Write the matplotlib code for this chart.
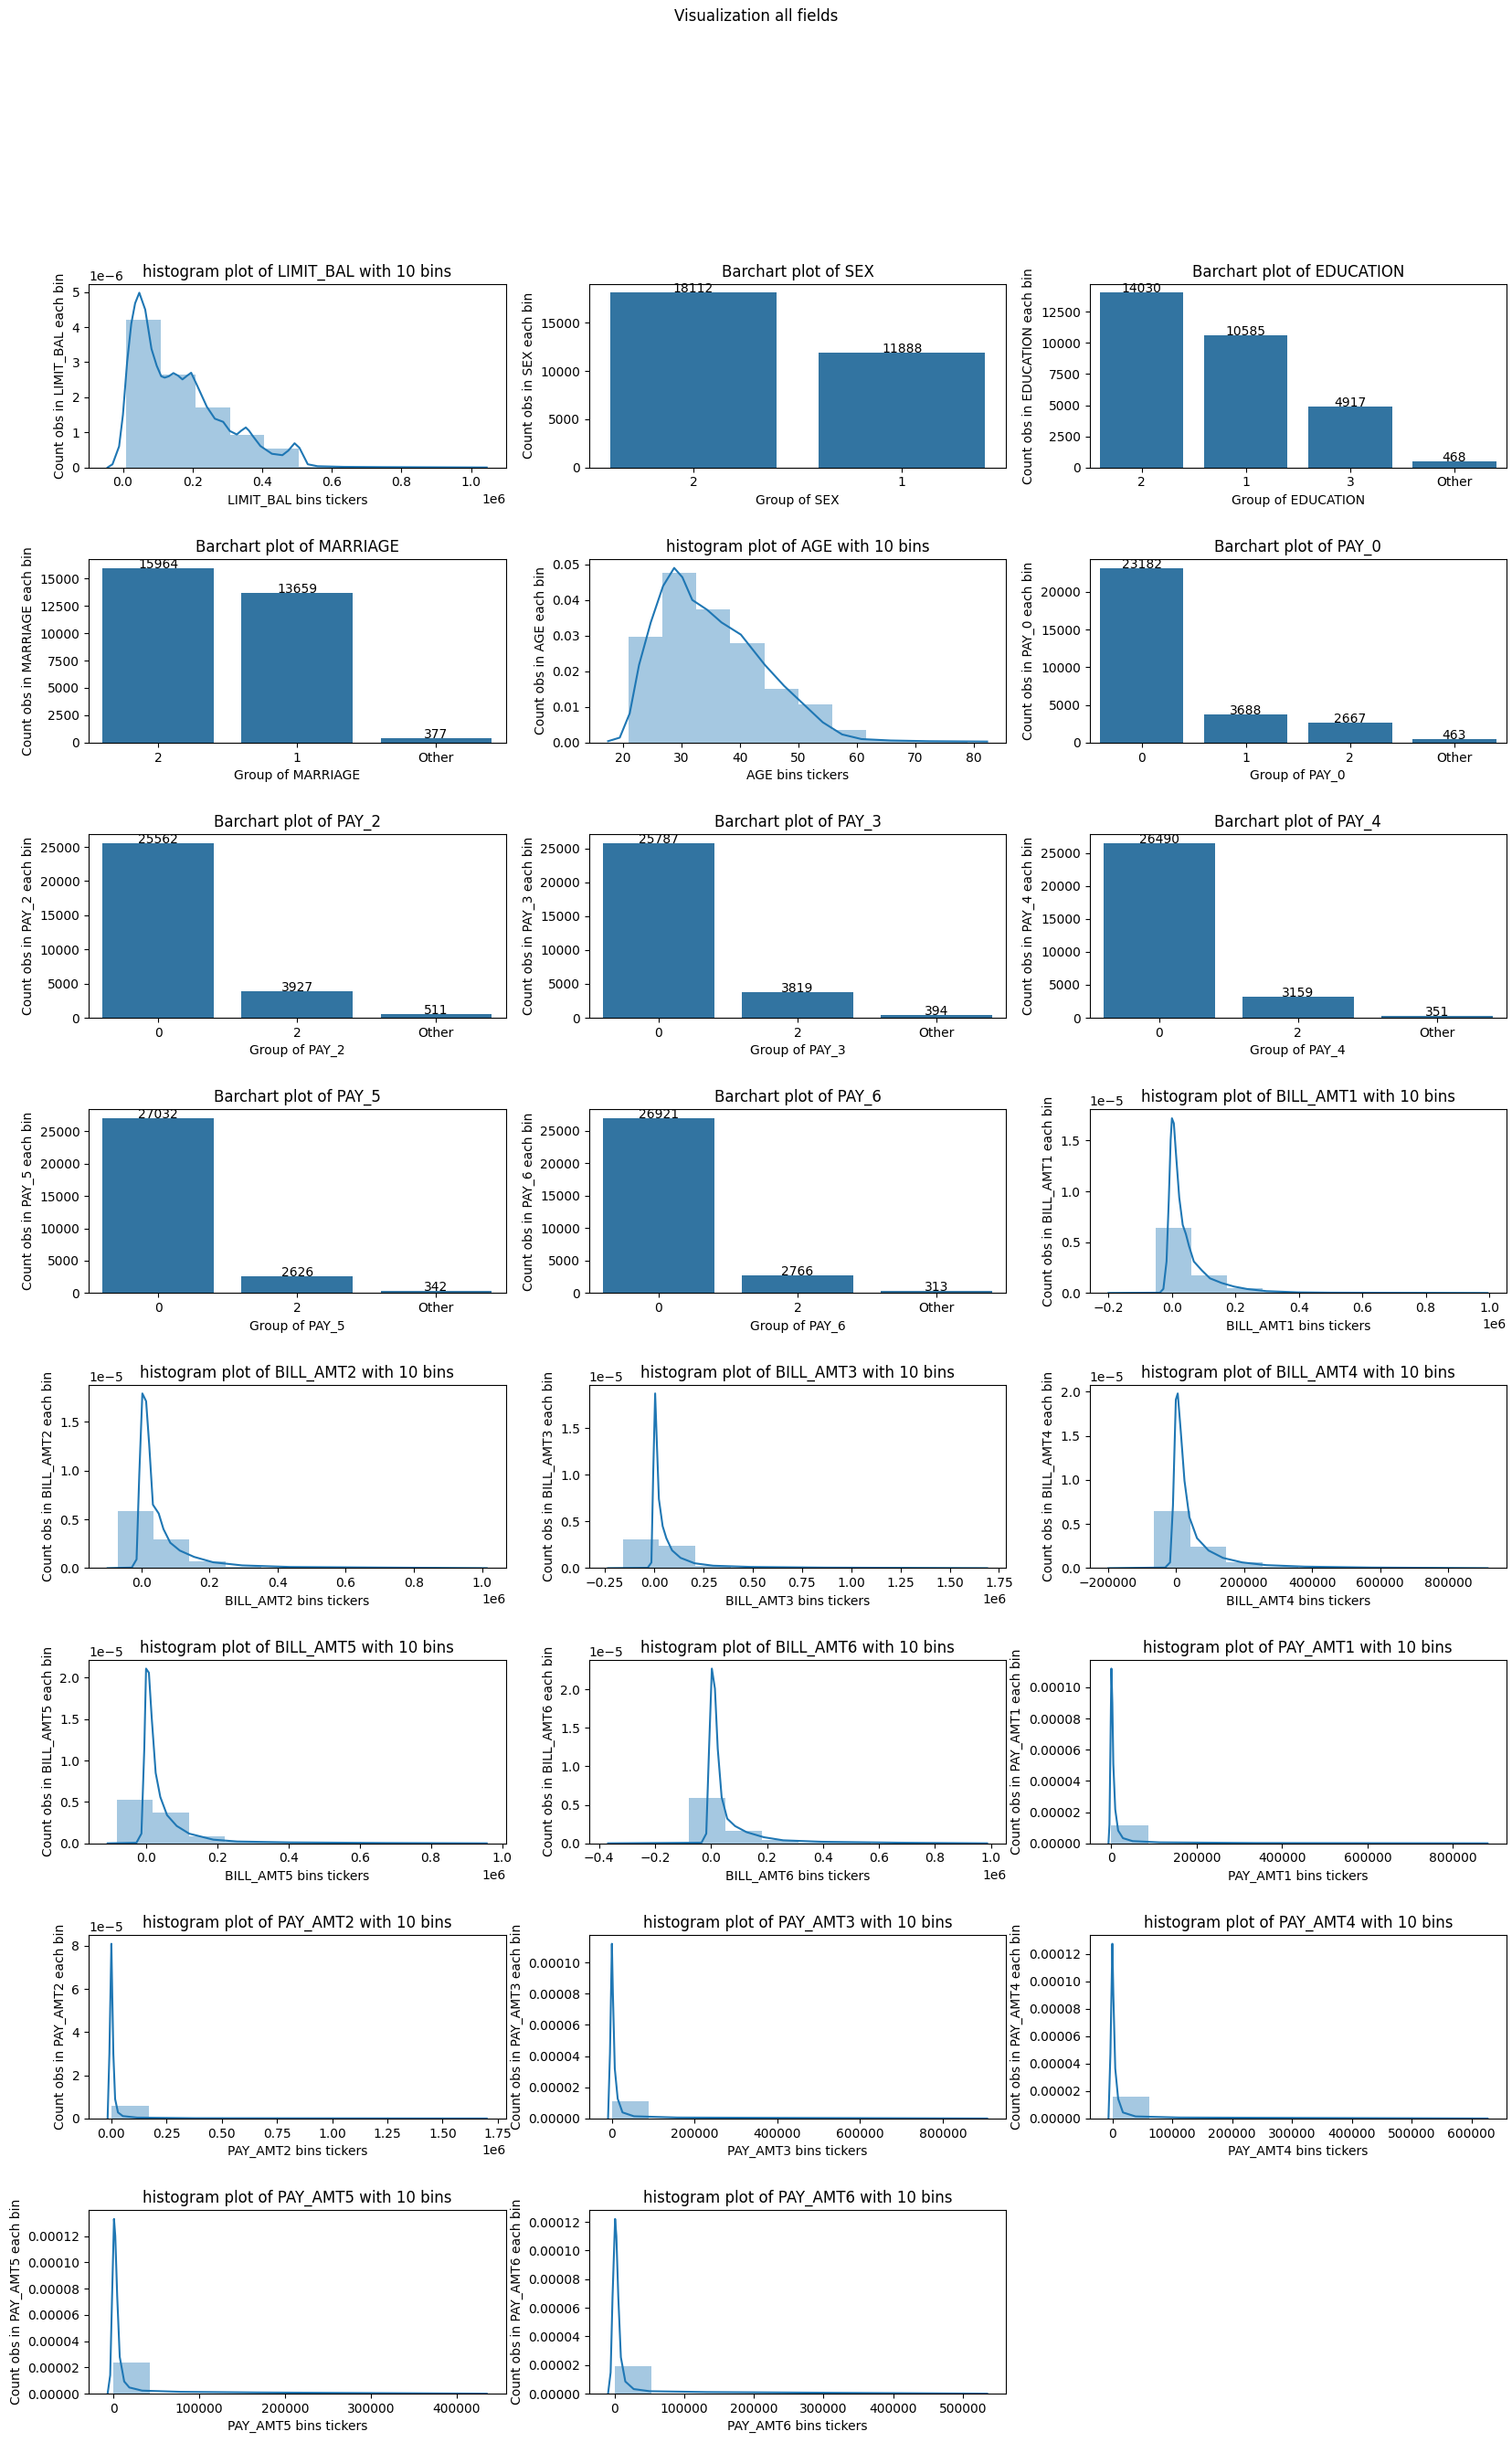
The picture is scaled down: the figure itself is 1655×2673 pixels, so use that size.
import matplotlib
matplotlib.use('Agg')
import matplotlib.pyplot as plt
import numpy as np

# ---- categorical fields (bar charts) ----
sex_groups = ['2', '1']
sex_counts = [18112, 11888]
education_groups = ['2', '1', '3', 'Other']
education_counts = [14030, 10585, 4917, 468]
marriage_groups = ['2', '1', 'Other']
marriage_counts = [15964, 13659, 377]
pay_0_groups = ['0', '1', '2', 'Other']
pay_0_counts = [23182, 3688, 2667, 463]
pay_2_groups = ['0', '2', 'Other']
pay_2_counts = [25562, 3927, 511]
pay_3_groups = ['0', '2', 'Other']
pay_3_counts = [25787, 3819, 394]
pay_4_groups = ['0', '2', 'Other']
pay_4_counts = [26490, 3159, 351]
pay_5_groups = ['0', '2', 'Other']
pay_5_counts = [27032, 2626, 342]
pay_6_groups = ['0', '2', 'Other']
pay_6_counts = [26921, 2766, 313]

# ---- numeric fields (histogram, 10 bins, density + kde) ----
limit_bal_range = (10000, 1000000)
limit_bal_density = np.array([4.20, 2.65, 1.70, 0.93, 0.53, 0.020, 0.010, 0.004, 0.003, 0.002]) * 1e-6
limit_bal_kde_x = np.array([-0.044, -0.030, -0.011, 0.0, 0.012, 0.024, 0.035, 0.047, 0.064, 0.082, 0.097,
                            0.110, 0.120, 0.132, 0.145, 0.158, 0.171, 0.185, 0.196, 0.213, 0.241, 0.264,
                            0.288, 0.307, 0.327, 0.340, 0.353, 0.362, 0.372, 0.395, 0.428, 0.458, 0.475,
                            0.493, 0.507, 0.531, 0.559, 0.634, 0.75, 0.9, 1.045]) * 1e6
limit_bal_kde_y = np.array([0.0, 0.09, 0.6, 1.5, 3.0, 4.1, 4.68, 4.98, 4.5, 3.38, 2.9, 2.6, 2.56, 2.6, 2.69,
                            2.62, 2.51, 2.62, 2.70, 2.34, 1.73, 1.39, 1.30, 1.04, 0.94, 1.05, 1.14, 1.05,
                            0.91, 0.61, 0.39, 0.35, 0.48, 0.69, 0.56, 0.09, 0.035, 0.017, 0.01, 0.005, 0.0]) * 1e-6

age_range = (21, 79)
age_density = [0.0296, 0.0475, 0.0375, 0.0278, 0.0151, 0.0108, 0.0036, 0.0008, 0.0004, 0.0002]
age_kde_x = [17.5, 19.5, 21.2, 22.8, 24.8, 26.9, 28.8, 30.2, 31.9, 34.4, 36.9, 40.2, 44.3, 47.6, 50.9,
             54.2, 57.5, 60.8, 65.8, 72.4, 82.3]
age_kde_y = [0.0004, 0.0014, 0.0082, 0.0218, 0.0337, 0.0439, 0.049, 0.0464, 0.0400, 0.0373, 0.0337,
             0.0303, 0.0218, 0.0159, 0.0108, 0.0057, 0.0023, 0.0010, 0.0006, 0.0004, 0.0003]

bill_amt1_range = (-165580, 964511)
bill_amt1_density = np.array([0.0005, 0.638, 0.174, 0.045, 0.012, 0.004, 0.002, 0.001, 0.0005, 0.0003]) * 1e-5
bill_amt1_kde_x = np.array([-0.2, -0.038, -0.027, -0.017, -0.010, -0.004, 0.0, 0.006, 0.013, 0.023, 0.034,
                            0.044, 0.054, 0.069, 0.095, 0.12, 0.156, 0.196, 0.237, 0.298, 0.4, 0.5, 0.995]) * 1e6
bill_amt1_kde_y = np.array([0.0, 0.003, 0.04, 0.31, 0.91, 1.51, 1.72, 1.67, 1.36, 0.94, 0.67, 0.58, 0.46,
                            0.31, 0.22, 0.144, 0.099, 0.063, 0.039, 0.018, 0.006, 0.003, 0.0]) * 1e-5

bill_amt2_range = (-69777, 983931)
bill_amt2_density = np.array([0.582, 0.293, 0.068, 0.018, 0.006, 0.003, 0.002, 0.001, 0.0005, 0.0003]) * 1e-5
bill_amt2_kde_x = np.array([-0.099, -0.028, -0.014, -0.006, 0.003, 0.014, 0.023, 0.034, 0.051, 0.065, 0.085,
                            0.113, 0.155, 0.211, 0.296, 0.437, 0.718, 1.014]) * 1e6
bill_amt2_kde_y = np.array([0.0, 0.006, 0.09, 0.96, 1.79, 1.71, 1.27, 0.65, 0.56, 0.40, 0.26, 0.18, 0.115,
                            0.06, 0.028, 0.012, 0.006, 0.0]) * 1e-5

bill_amt3_range = (-157264, 1664089)
bill_amt3_density = np.array([0.304, 0.236, 0.023, 0.006, 0.002, 0.001, 0.0005, 0.0003, 0.0002, 0.0001]) * 1e-5
bill_amt3_kde_x = np.array([-0.234, -0.033, -0.014, -0.005, 0.005, 0.014, 0.024, 0.043, 0.062, 0.091, 0.134,
                            0.205, 0.30, 0.49, 0.87, 1.69]) * 1e6
bill_amt3_kde_y = np.array([0.0, 0.003, 0.06, 1.0, 1.87, 1.32, 0.74, 0.45, 0.32, 0.19, 0.11, 0.052, 0.026,
                            0.013, 0.006, 0.0]) * 1e-5

bill_amt4_range = (-170000, 891586)
bill_amt4_density = np.array([0.001, 0.65, 0.239, 0.062, 0.015, 0.005, 0.002, 0.001, 0.0005, 0.0003]) * 1e-5
bill_amt4_kde_x = [-197900, -31100, -17000, -8500, 0, 5600, 14100, 25400, 39600, 62200, 96100, 138500,
                   195000, 265700, 378800, 576700, 916000]
bill_amt4_kde_y = np.array([0.0, 0.007, 0.065, 0.71, 1.91, 1.98, 1.57, 0.99, 0.58, 0.34, 0.20, 0.116, 0.065,
                            0.034, 0.017, 0.007, 0.0]) * 1e-5

bill_amt5_range = (-81334, 927171)
bill_amt5_density = np.array([0.531, 0.377, 0.080, 0.020, 0.006, 0.003, 0.002, 0.001, 0.0005, 0.0003]) * 1e-5
bill_amt5_kde_x = np.array([-0.108, -0.027, -0.013, -0.005, 0.0, 0.008, 0.016, 0.027, 0.04, 0.059, 0.086,
                            0.121, 0.148, 0.189, 0.256, 0.404, 0.674, 0.957]) * 1e6
bill_amt5_kde_y = np.array([0.0, 0.007, 0.117, 1.14, 2.11, 2.06, 1.51, 0.85, 0.56, 0.34, 0.21, 0.117, 0.088,
                            0.044, 0.022, 0.011, 0.004, 0.0]) * 1e-5

bill_amt6_range = (-339603, 961664)
bill_amt6_density = np.array([0.0005, 0.001, 0.593, 0.157, 0.047, 0.01, 0.004, 0.002, 0.001, 0.0005]) * 1e-5
bill_amt6_kde_x = np.array([-0.368, -0.034, -0.017, -0.007, 0.003, 0.014, 0.024, 0.038, 0.058, 0.086, 0.127,
                            0.189, 0.258, 0.395, 0.67, 0.987]) * 1e6
bill_amt6_kde_y = np.array([0.0, 0.008, 0.126, 1.23, 2.27, 2.01, 1.23, 0.60, 0.32, 0.224, 0.145, 0.079,
                            0.039, 0.020, 0.008, 0.0]) * 1e-5

pay_amt1_range = (0, 873552)
pay_amt1_density = np.array([0.118, 0.0008, 0.0002, 0.0001, 0.00005, 0.00003, 0.00002, 0.00001, 0.00001, 0.00001]) * 1e-4
pay_amt1_kde_x = [-6780, -4520, -2260, 0, 2260, 4520, 9040, 15820, 27120, 49720, 113000, 339000, 881400]
pay_amt1_kde_y = np.array([0.0, 0.12, 0.6, 1.12, 0.9, 0.51, 0.217, 0.082, 0.033, 0.014, 0.006, 0.002, 0.0]) * 1e-4

pay_amt2_range = (0, 1684259)
pay_amt2_density = np.array([0.598, 0.002, 0.0005, 0.0002, 0.0001, 0.0001, 0.00005, 0.00003, 0.00002, 0.00001]) * 1e-5
pay_amt2_kde_x = np.array([-0.017, -0.009, 0.0, 0.004, 0.009, 0.017, 0.03, 0.052, 0.117, 0.378, 1.70]) * 1e6
pay_amt2_kde_y = np.array([0.0, 3.0, 8.1, 5.77, 2.99, 0.9, 0.28, 0.11, 0.04, 0.014, 0.0]) * 1e-5

pay_amt3_range = (0, 896040)
pay_amt3_density = np.array([0.113, 0.0008, 0.0002, 0.0001, 0.00005, 0.00003, 0.00002, 0.00001, 0.00001, 0.00001]) * 1e-4
pay_amt3_kde_x = [-9300, -4650, 0, 2330, 7000, 14000, 25600, 53500, 158000, 907000]
pay_amt3_kde_y = np.array([0.0, 0.42, 1.12, 0.81, 0.32, 0.127, 0.039, 0.014, 0.006, 0.0]) * 1e-4

pay_amt4_range = (0, 621000)
pay_amt4_density = np.array([0.161, 0.0008, 0.0002, 0.0001, 0.00005, 0.00003, 0.00002, 0.00001, 0.00001, 0.00001]) * 1e-4
pay_amt4_kde_x = [-6450, -3230, 0, 1613, 4840, 9680, 17700, 38700, 111000, 627000]
pay_amt4_kde_y = np.array([0.0, 0.475, 1.275, 0.917, 0.365, 0.144, 0.044, 0.015, 0.007, 0.0]) * 1e-4

pay_amt5_range = (0, 426529)
pay_amt5_density = np.array([0.237, 0.0015, 0.0004, 0.0002, 0.0001, 0.00005, 0.00003, 0.00002, 0.00001, 0.00001]) * 1e-4
pay_amt5_kde_x = [-6700, -3700, -1490, 740, 2230, 4460, 7430, 12600, 18600, 33500, 78000, 167000, 435000]
pay_amt5_kde_y = np.array([0.0, 0.14, 0.744, 1.33, 1.20, 0.744, 0.28, 0.093, 0.047, 0.023, 0.014, 0.009, 0.0]) * 1e-4

pay_amt6_range = (0, 528666)
pay_amt6_density = np.array([0.19, 0.0012, 0.0004, 0.0002, 0.0001, 0.00005, 0.00003, 0.00002, 0.00001, 0.00001]) * 1e-4
pay_amt6_kde_x = [-9200, -5500, -2760, 920, 2760, 5500, 9200, 15600, 27600, 50500, 133000, 535000]
pay_amt6_kde_y = np.array([0.0, 0.148, 0.677, 1.221, 1.10, 0.677, 0.254, 0.085, 0.032, 0.017, 0.011, 0.0]) * 1e-4

# order of the panels in the 8x3 grid
panels = [
    ('hist', 'LIMIT_BAL', limit_bal_range, limit_bal_density, limit_bal_kde_x, limit_bal_kde_y),
    ('bar', 'SEX', sex_groups, sex_counts),
    ('bar', 'EDUCATION', education_groups, education_counts),
    ('bar', 'MARRIAGE', marriage_groups, marriage_counts),
    ('hist', 'AGE', age_range, age_density, age_kde_x, age_kde_y),
    ('bar', 'PAY_0', pay_0_groups, pay_0_counts),
    ('bar', 'PAY_2', pay_2_groups, pay_2_counts),
    ('bar', 'PAY_3', pay_3_groups, pay_3_counts),
    ('bar', 'PAY_4', pay_4_groups, pay_4_counts),
    ('bar', 'PAY_5', pay_5_groups, pay_5_counts),
    ('bar', 'PAY_6', pay_6_groups, pay_6_counts),
    ('hist', 'BILL_AMT1', bill_amt1_range, bill_amt1_density, bill_amt1_kde_x, bill_amt1_kde_y),
    ('hist', 'BILL_AMT2', bill_amt2_range, bill_amt2_density, bill_amt2_kde_x, bill_amt2_kde_y),
    ('hist', 'BILL_AMT3', bill_amt3_range, bill_amt3_density, bill_amt3_kde_x, bill_amt3_kde_y),
    ('hist', 'BILL_AMT4', bill_amt4_range, bill_amt4_density, bill_amt4_kde_x, bill_amt4_kde_y),
    ('hist', 'BILL_AMT5', bill_amt5_range, bill_amt5_density, bill_amt5_kde_x, bill_amt5_kde_y),
    ('hist', 'BILL_AMT6', bill_amt6_range, bill_amt6_density, bill_amt6_kde_x, bill_amt6_kde_y),
    ('hist', 'PAY_AMT1', pay_amt1_range, pay_amt1_density, pay_amt1_kde_x, pay_amt1_kde_y),
    ('hist', 'PAY_AMT2', pay_amt2_range, pay_amt2_density, pay_amt2_kde_x, pay_amt2_kde_y),
    ('hist', 'PAY_AMT3', pay_amt3_range, pay_amt3_density, pay_amt3_kde_x, pay_amt3_kde_y),
    ('hist', 'PAY_AMT4', pay_amt4_range, pay_amt4_density, pay_amt4_kde_x, pay_amt4_kde_y),
    ('hist', 'PAY_AMT5', pay_amt5_range, pay_amt5_density, pay_amt5_kde_x, pay_amt5_kde_y),
    ('hist', 'PAY_AMT6', pay_amt6_range, pay_amt6_density, pay_amt6_kde_x, pay_amt6_kde_y),
]

BAR_COLOR = '#3274a1'  # seaborn barplot default (C0 desaturated)


def draw_bar(ax, name, groups, counts):
    pos = np.arange(len(groups))
    ax.bar(pos, counts, width=0.8, color=BAR_COLOR)
    for x, c in zip(pos, counts):
        ax.text(x, c, str(c), ha='center')
    ax.set_xticks(pos)
    ax.set_xticklabels(groups)
    ax.set_xlim(-0.5, len(groups) - 0.5)
    ax.set_title('Barchart plot of %s' % name)
    ax.set_xlabel('Group of %s' % name)
    ax.set_ylabel('Count obs in %s each bin' % name)


def draw_hist(ax, name, rng, density, kde_x, kde_y):
    edges = np.linspace(rng[0], rng[1], 11)  # 10 bins between min and max
    ax.hist(edges[:-1], bins=edges, weights=density, color='C0', alpha=0.4)
    ax.plot(kde_x, kde_y, color='C0', lw=1.5)
    ax.set_title('histogram plot of %s with 10 bins' % name)
    ax.set_xlabel('%s bins tickers' % name)
    ax.set_ylabel('Count obs in %s each bin' % name)


fig, axes = plt.subplots(8, 3, figsize=(16.56, 26.73), dpi=100)
fig.subplots_adjust(left=0.0586, right=0.9958, top=0.8837, bottom=0.0198, wspace=0.2, hspace=0.5)
fig.suptitle('Visualization all fields', y=0.9965)

axes = axes.flatten()
for ax, p in zip(axes, panels):
    if p[0] == 'bar':
        draw_bar(ax, *p[1:])
    else:
        draw_hist(ax, *p[1:])
axes[-1].axis('off')

plt.savefig('out.png', dpi=100)
